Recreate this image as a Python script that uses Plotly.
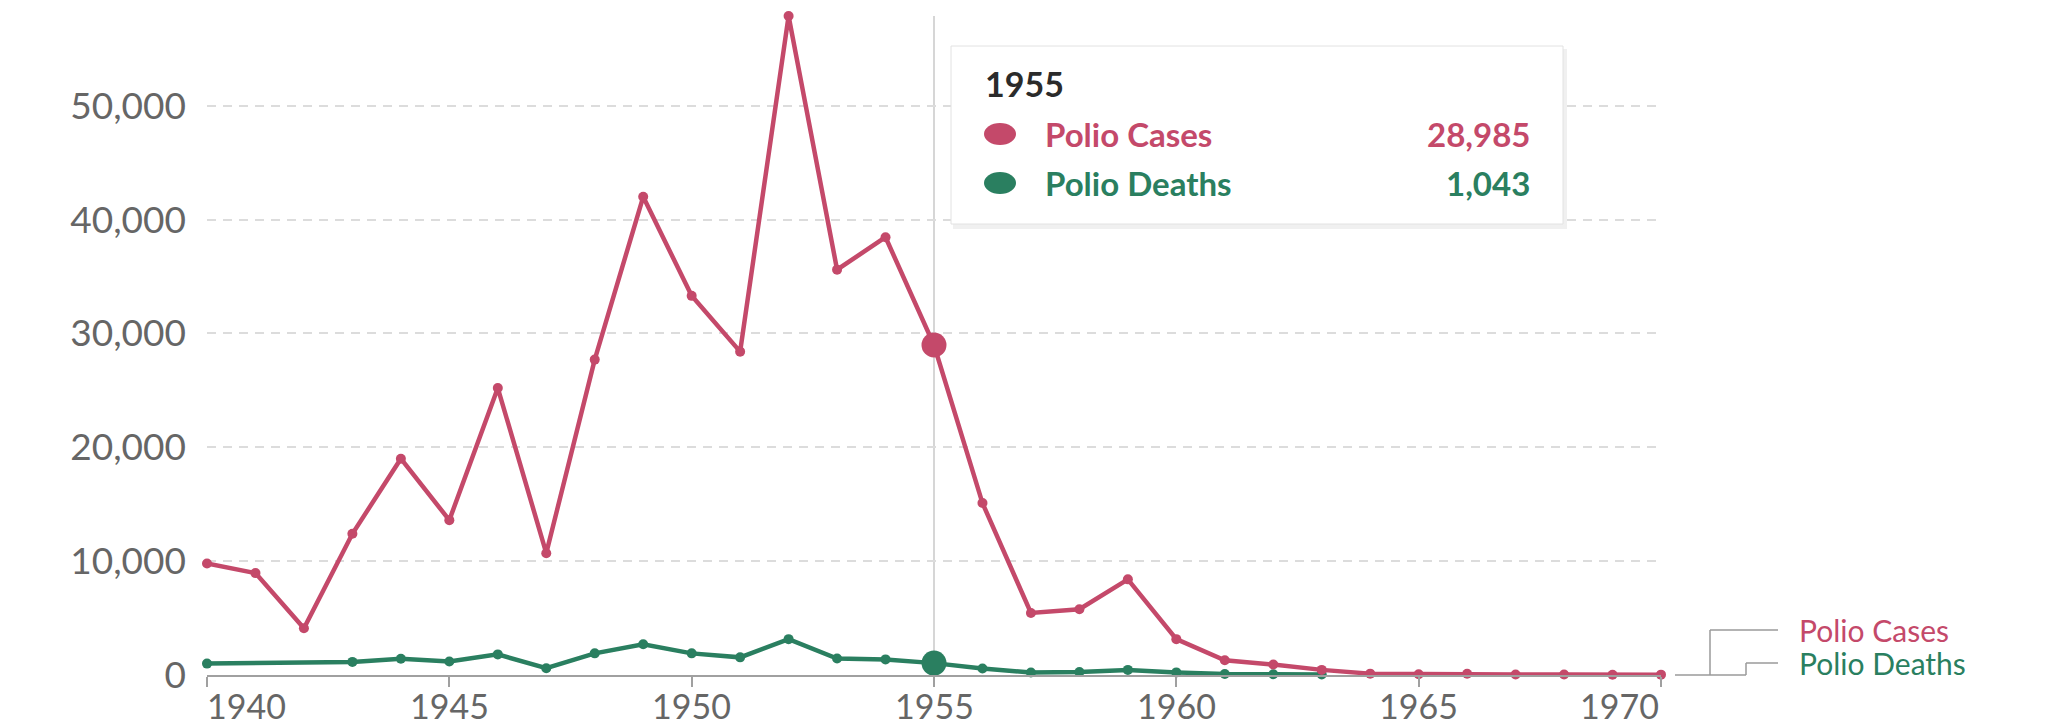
import plotly.graph_objects as go

# ---------------- data ----------------
years = list(range(1940, 1971))
cases = [9800, 8950, 4100, 12400, 19000, 13600, 25200, 10700, 27700, 42000,
         33300, 28400, 57879, 35600, 38450, 28985, 15100, 5450, 5780, 8400,
         3150, 1300, 920, 450, 120, 70, 110, 40, 50, 20, 30]
death_years = [1940] + list(range(1943, 1964))
deaths = [1000, 1150, 1430, 1190, 1810, 600, 1900, 2700, 1900, 1550, 3150,
          1450, 1370, 1043, 570, 220, 255, 450, 230, 90, 60, 40]
series_names = ["Polio Cases", "Polio Deaths"]
highlight_year = 1955
y_ticks = [0, 10000, 20000, 30000, 40000, 50000]
x_ticks = [1940, 1945, 1950, 1955, 1960, 1965, 1970]

RED = "#C4496A"
GREEN = "#2A7F60"
GRAY_TXT = "#666666"

# ---------------- geometry (pixels) ----------------
W, H = 2067, 726
L, R, T, B = 207, 406, 16, 51
PW, PH = W - L - R, H - T - B


def px(x):
    return (x - L) / PW


def py(y):
    return (H - B - y) / PH


fig = go.Figure()
fig.add_trace(go.Scatter(x=death_years, y=deaths, mode="lines+markers", name=series_names[1],
                         line=dict(color=GREEN, width=4.5), marker=dict(size=10, color=GREEN),
                         cliponaxis=False, showlegend=False))
fig.add_trace(go.Scatter(x=years, y=cases, mode="lines+markers", name=series_names[0],
                         line=dict(color=RED, width=4.5), marker=dict(size=10, color=RED),
                         cliponaxis=False, showlegend=False))

hc = cases[years.index(highlight_year)]
hd = deaths[death_years.index(highlight_year)]
fig.add_trace(go.Scatter(x=[highlight_year], y=[hd], mode="markers",
                         marker=dict(size=25, color=GREEN), cliponaxis=False, showlegend=False))
fig.add_trace(go.Scatter(x=[highlight_year], y=[hc], mode="markers",
                         marker=dict(size=25, color=RED), cliponaxis=False, showlegend=False))

shapes = []
# hover guide line
shapes.append(dict(type="line", xref="x", yref="paper", x0=highlight_year, x1=highlight_year,
                   y0=0, y1=1, line=dict(color="#d6d6d6", width=2), layer="below"))
# tooltip box (shadow + box)
shapes.append(dict(type="rect", xref="paper", yref="paper", x0=px(953), x1=px(1567), y0=py(49), y1=py(229),
                   fillcolor="rgba(0,0,0,0.06)", line=dict(width=0), layer="above"))
shapes.append(dict(type="rect", xref="paper", yref="paper", x0=px(951), x1=px(1563), y0=py(46), y1=py(224),
                   fillcolor="white", line=dict(color="#e2e2e2", width=1), layer="above"))
shapes.append(dict(type="circle", xref="paper", yref="paper", x0=px(984), x1=px(1016), y0=py(123), y1=py(145),
                   fillcolor=RED, line=dict(width=0), layer="above"))
shapes.append(dict(type="circle", xref="paper", yref="paper", x0=px(984), x1=px(1016), y0=py(172), y1=py(194),
                   fillcolor=GREEN, line=dict(width=0), layer="above"))
# line-label connectors
conn = dict(color="#9a9a9a", width=1.5)
for (x0, y0, x1, y1) in [(1675, 675, 1746, 675), (1710, 675, 1710, 630), (1710, 630, 1778, 630),
                         (1746, 675, 1746, 663), (1746, 663, 1778, 663)]:
    shapes.append(dict(type="line", xref="paper", yref="paper", x0=px(x0), x1=px(x1),
                       y0=py(y0), y1=py(y1), line=conn))

ann = []
# x tick labels
for v in x_ticks:
    anchor = "left" if v == x_ticks[0] else ("right" if v == x_ticks[-1] else "center")
    xs = -2 if v == x_ticks[0] else 0
    ann.append(dict(x=v, xref="x", y=py(705), yref="paper", text=str(v), showarrow=False,
                    xanchor=anchor, yanchor="middle", xshift=xs,
                    font=dict(family="Lato", size=34, color=GRAY_TXT)))
# tooltip text
ann.append(dict(x=px(983), y=py(83), xref="paper", yref="paper", text="<b>%d</b>" % highlight_year,
                showarrow=False, xanchor="left", yanchor="middle",
                font=dict(family="Lato", size=34, color="#2b2b2b")))
for name, val, col, yy in [(series_names[0], hc, RED, 134), (series_names[1], hd, GREEN, 183)]:
    ann.append(dict(x=px(1043), y=py(yy), xref="paper", yref="paper", text="<b>%s</b>" % name,
                    showarrow=False, xanchor="left", yanchor="middle",
                    font=dict(family="Lato", size=33, color=col)))
    ann.append(dict(x=px(1532), y=py(yy), xref="paper", yref="paper", text="<b>{:,}</b>".format(val),
                    showarrow=False, xanchor="right", yanchor="middle",
                    font=dict(family="Lato", size=33, color=col)))
# line end labels
for name, col, yy in [(series_names[0], RED, 630), (series_names[1], GREEN, 663)]:
    ann.append(dict(x=px(1797), y=py(yy), xref="paper", yref="paper", text=name,
                    showarrow=False, xanchor="left", yanchor="middle",
                    font=dict(family="Lato", size=30, color=col)))

fig.update_layout(
    width=W, height=H,
    margin=dict(l=L, r=R, t=T, b=B, pad=0),
    paper_bgcolor="white", plot_bgcolor="white",
    font=dict(family="Lato", color=GRAY_TXT),
    showlegend=False,
    shapes=shapes, annotations=ann,
    xaxis=dict(range=[1940, 1970], tickvals=x_ticks, showticklabels=False,
               ticks="outside", ticklen=10, tickwidth=2, tickcolor="#a0a0a0",
               showline=True, linecolor="#a0a0a0", linewidth=2,
               showgrid=False, zeroline=False, fixedrange=True),
    yaxis=dict(range=[0, 57879], tickvals=y_ticks, tickformat=",",
               tickfont=dict(family="Lato", size=37, color=GRAY_TXT),
               ticks="", ticklabelstandoff=20,
               showgrid=True, gridcolor="#dcdcdc", gridwidth=2, griddash="9px,7px",
               zeroline=False, showline=False, fixedrange=True),
)

fig.write_html("out.html", config={"displayModeBar": False},
               post_script="document.body.style.margin='0';")
